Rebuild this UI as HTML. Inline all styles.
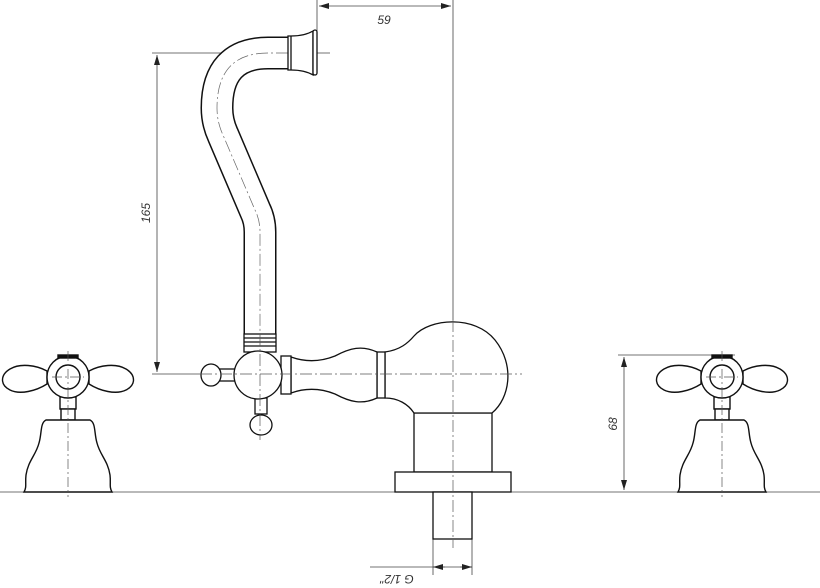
<!DOCTYPE html>
<html><head><meta charset="utf-8"><style>body{margin:0;background:#fff}svg{display:block}</style></head>
<body>
<svg width="820" height="588" viewBox="0 0 820 588" xmlns="http://www.w3.org/2000/svg" font-family="Liberation Sans, sans-serif">
<defs>
<marker id="a" viewBox="0 0 10 6" refX="10" refY="3" markerWidth="10" markerHeight="6" orient="auto-start-reverse" markerUnits="userSpaceOnUse"><path d="M0,0 L10,3 L0,6 Z" fill="#222"/></marker>
<g id="hdl" fill="#fff" stroke="#111" stroke-width="1.4">
  <path d="M-21,-6 C-32,-12 -48,-14 -58,-8 C-68,-2 -68,8 -58,13 C-48,18 -32,14 -21,7 Z"/>
  <path d="M21,-6 C32,-12 48,-14 58,-8 C68,-2 68,8 58,13 C48,18 32,14 21,7 Z"/>
  <rect x="-8" y="20" width="16" height="12"/>
  <rect x="-7" y="32" width="14" height="11"/>
  <circle r="21"/>
  <circle r="12"/>
  <rect x="-10" y="-22" width="20" height="3" fill="#111"/>
  <path d="M-22,43 L22,43 C28,46 26,56 29,66 C32,78 40,84 42,98 C43,106 41,110 44,115 L-44,115 C-41,110 -43,106 -42,98 C-40,84 -32,78 -29,66 C-26,56 -28,46 -22,43 Z"/>
  <g stroke="#555" stroke-width="0.7" stroke-dasharray="10,3,2,3" fill="none"><line x1="0" y1="-26" x2="0" y2="120"/><line x1="-16" y1="0" x2="16" y2="0"/></g>
</g>
</defs>
<g stroke="#444" stroke-width="0.8" fill="none">
  <line x1="0" y1="492" x2="820" y2="492"/>
  <line x1="317" y1="0" x2="317" y2="72"/>
  <line x1="453" y1="0" x2="453" y2="320"/>
  <line x1="319" y1="6" x2="451" y2="6" marker-start="url(#a)" marker-end="url(#a)"/>
  <line x1="152" y1="53" x2="330" y2="53"/>
  <line x1="157" y1="55" x2="157" y2="372" marker-start="url(#a)" marker-end="url(#a)"/>
  <line x1="152" y1="374" x2="200" y2="374"/>
  <line x1="618" y1="355" x2="735" y2="355"/>
  <line x1="624" y1="357" x2="624" y2="490" marker-start="url(#a)" marker-end="url(#a)"/>
  <line x1="433" y1="539" x2="433" y2="575"/>
  <line x1="472" y1="539" x2="472" y2="575"/>
  <line x1="370" y1="567" x2="472" y2="567"/>
  <line x1="445" y1="567" x2="433" y2="567" marker-end="url(#a)"/>
  <line x1="460" y1="567" x2="472" y2="567" marker-end="url(#a)"/>
</g>
<g fill="#333" font-size="12" font-style="italic">
  <text x="384" y="24" text-anchor="middle">59</text>
  <text transform="translate(150,213) rotate(-90)" text-anchor="middle">165</text>
  <text transform="translate(617,424) rotate(-90)" text-anchor="middle">68</text>
  <text transform="translate(397,575) rotate(180)" text-anchor="middle">G 1/2"</text>
</g>
<!-- spout -->
<path id="sp" d="M291,53 L268,53 Q217,53 217,108 Q217,122 223,135 L255,210 Q260,220 260,232 L260,335" fill="none" stroke="#111" stroke-width="33"/>
<path d="M292,53 L268,53 Q217,53 217,108 Q217,122 223,135 L255,210 Q260,220 260,232 L260,336" fill="none" stroke="#fff" stroke-width="30"/>
<path d="M288,53 L268,53 Q217,53 217,108 Q217,122 223,135 L255,210 Q260,220 260,232 L260,334" fill="none" stroke="#666" stroke-width="0.7" stroke-dasharray="12,3,2,3"/>
<g fill="#fff" stroke="#111" stroke-width="1.3">
  <path d="M288,36 L291,36 C300,36 308,34 313,31 L313,75 C308,72 300,70 291,70 L288,70 Z"/>
  <line x1="291" y1="36" x2="291" y2="70"/>
  <rect x="313" y="30" width="4" height="45" rx="2"/>
  <rect x="244" y="334" width="32" height="18"/>
  <line x1="244" y1="338" x2="276" y2="338"/><line x1="244" y1="342" x2="276" y2="342"/><line x1="244" y1="346" x2="276" y2="346"/>
  <path d="M414,413 L492,413 L492,472 L414,472 Z"/>
  <rect x="395" y="472" width="116" height="20"/>
  <rect x="433" y="492" width="39" height="47"/>
  <path d="M385,352 C400,350 408,343 414,336 C430,318 475,315 495,340 C515,365 510,398 492,413 L414,413 C408,404 398,398 385,398 Z"/>
  <rect x="377" y="352" width="8" height="46"/>
  <path d="M291,357 C305,362 320,362 335,356 C350,348 362,345 377,352 L377,398 C362,405 350,402 335,394 C320,388 305,388 291,393 Z"/>
  <rect x="281" y="356" width="10" height="38"/>
  <rect x="218" y="369" width="18" height="12"/>
  <ellipse cx="211" cy="375" rx="10" ry="11"/>
  <rect x="255" y="398" width="12" height="16"/>
  <ellipse cx="261" cy="425" rx="11" ry="10"/>
  <circle cx="258" cy="375" r="24"/>
</g>
<g stroke="#555" stroke-width="0.7" stroke-dasharray="12,3,2,3" fill="none">
  <line x1="200" y1="374" x2="522" y2="374"/>
  <line x1="453" y1="320" x2="453" y2="548"/>
  <line x1="260" y1="334" x2="260" y2="440"/>
</g>
<use href="#hdl" x="68" y="377"/>
<use href="#hdl" x="722" y="377"/>
</svg>
</body></html>
